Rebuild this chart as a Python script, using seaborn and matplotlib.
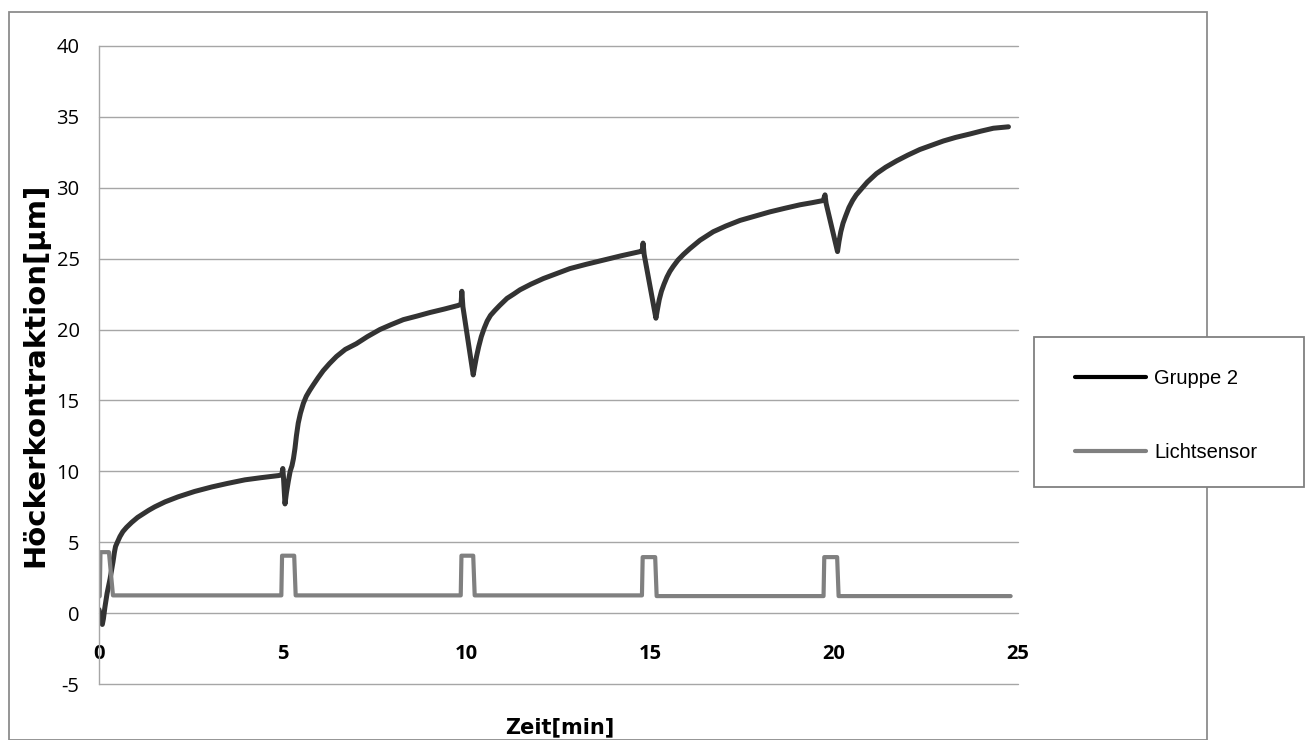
import matplotlib
matplotlib.use("Agg")
import matplotlib.pyplot as plt
from matplotlib.patches import Rectangle
import seaborn as sns

# ---- data ----
gruppe_t = [0.00, 0.05, 0.09, 0.12, 0.16, 0.22, 0.30, 0.38, 0.42, 0.45, 0.50, 0.57, 0.65,
            0.75, 0.89, 1.05, 1.20, 1.35, 1.52, 1.80, 2.15, 2.60, 3.07, 3.50, 3.97, 4.40,
            4.88, 4.97, 5.00, 5.02, 5.06, 5.10, 5.15, 5.20, 5.25, 5.29, 5.33, 5.37, 5.42,
            5.48, 5.56, 5.64, 5.73, 5.83, 5.96, 6.10, 6.27, 6.46, 6.70, 7.00, 7.30, 7.64,
            7.95, 8.28, 8.65, 9.00, 9.40, 9.77, 9.85, 9.87, 9.90, 10.18, 10.22, 10.27,
            10.33, 10.40, 10.48, 10.56, 10.65, 10.77, 10.90, 11.10, 11.28, 11.45, 11.75,
            12.09, 12.45, 12.81, 13.25, 13.72, 14.20, 14.72, 14.78, 14.80, 14.83, 15.15,
            15.19, 15.24, 15.30, 15.37, 15.45, 15.53, 15.62, 15.75, 15.90, 16.07, 16.35,
            16.71, 17.05, 17.44, 17.85, 18.25, 18.65, 19.07, 19.40, 19.70, 19.75, 19.78,
            20.09, 20.13, 20.18, 20.24, 20.31, 20.40, 20.50, 20.60, 20.70, 20.90, 21.15,
            21.40, 21.70, 22.00, 22.33, 22.65, 22.97, 23.30, 23.70, 24.00, 24.33, 24.74]
gruppe_v = [0.25, -0.3, -0.8, -0.4, 0.4, 1.4, 2.4, 3.6, 4.3, 4.7, 5.0, 5.4, 5.75,
            6.05, 6.4, 6.75, 7.0, 7.25, 7.5, 7.85, 8.2, 8.58, 8.9, 9.15, 9.4, 9.55,
            9.7, 9.75, 10.2, 9.5, 7.7, 8.5, 9.3, 10.0, 10.4, 10.9, 11.6, 12.5, 13.4,
            14.1, 14.8, 15.3, 15.7, 16.1, 16.6, 17.1, 17.6, 18.1, 18.6, 19.0, 19.5, 20.0,
            20.35, 20.7, 20.95, 21.2, 21.45, 21.7, 21.8, 22.7, 21.6, 16.8, 17.4, 18.1,
            18.8, 19.5, 20.1, 20.6, 21.0, 21.35, 21.7, 22.2, 22.5, 22.8, 23.2,
            23.6, 23.95, 24.3, 24.6, 24.9, 25.2, 25.5, 25.6, 26.1, 25.3, 20.8,
            21.4, 22.1, 22.7, 23.2, 23.7, 24.1, 24.45, 24.9, 25.3, 25.7, 26.3,
            26.9, 27.3, 27.7, 28.0, 28.3, 28.55, 28.8, 28.95, 29.1, 29.5, 28.9,
            25.5, 26.2, 26.9, 27.5, 28.0, 28.6, 29.1, 29.5, 29.8, 30.4, 31.0,
            31.45, 31.9, 32.3, 32.7, 33.0, 33.3, 33.55, 33.8, 34.0, 34.2, 34.3]

licht_t = [0.00, 0.02, 0.04, 0.27, 0.38, 4.96, 4.98, 5.31, 5.35, 9.84, 9.86, 10.18, 10.22,
           14.77, 14.79, 15.13, 15.17, 19.71, 19.73, 20.08, 20.12, 24.80]
licht_v = [1.15, 1.2, 4.3, 4.3, 1.25, 1.25, 4.05, 4.05, 1.25, 1.25, 4.05, 4.05, 1.25,
           1.25, 3.95, 3.95, 1.2, 1.2, 3.95, 3.95, 1.2, 1.2]

x_ticks = [0, 5, 10, 15, 20, 25]
y_ticks = [-5, 0, 5, 10, 15, 20, 25, 30, 35, 40]

series_names = ["Gruppe 2", "Lichtsensor"]
x_label = "Zeit[min]"
y_label = "Höckerkontraktion[µm]"

# ---- figure ----
sns.set_style("white")
plt.rcParams["font.family"] = ["Open Sans", "DejaVu Sans"]

W, H = 1309, 740
fig = plt.figure(figsize=(W / 100, H / 100), dpi=100)
ax = fig.add_axes([99 / W, 1 - 684 / H, (1018 - 99) / W, (684 - 46) / H])

sns.lineplot(x=gruppe_t, y=gruppe_v, sort=False, estimator=None, ax=ax,
             color="#333333", linewidth=3.6, label=series_names[0],
             solid_joinstyle="round", solid_capstyle="round")
sns.lineplot(x=licht_t, y=licht_v, sort=False, estimator=None, ax=ax,
             color="#808080", linewidth=3.0, label=series_names[1],
             solid_joinstyle="round", solid_capstyle="round")

# spines: left grey; bottom spine moved to y=0 (hidden) so x labels sit below the 0 line
for s in ["top", "right"]:
    ax.spines[s].set_visible(False)
ax.spines["left"].set_color("#a6a6a6")
ax.spines["left"].set_linewidth(1.0)
ax.spines["bottom"].set_position(("data", 0))
ax.spines["bottom"].set_visible(False)

ax.set_xlim(0, 25)
ax.set_ylim(-5, 40)
ax.set_xticks(x_ticks)
ax.set_yticks(y_ticks)
ax.set_xticklabels([str(v) for v in x_ticks], fontsize=14.5, fontweight="bold")
ax.set_yticklabels([str(v) for v in y_ticks], fontsize=14.5)
ax.tick_params(axis="x", length=0, pad=22, labelcolor="black")
ax.tick_params(axis="y", length=0, pad=14, labelcolor="black")

ax.grid(axis="y", color="#a6a6a6", linewidth=1.0)
ax.grid(axis="x", visible=False)
ax.set_axisbelow(True)
for gl in ax.get_ygridlines():
    gl.set_clip_on(False)

ax.set_xlabel(x_label, fontsize=15, fontweight="bold", family="DejaVu Sans", color="black")
ax.xaxis.set_label_coords(0.5016, -0.053)
ax.xaxis.label.set_va("top")
ax.set_ylabel(y_label, fontsize=21, fontweight="bold", family="DejaVu Sans", color="black")
ax.yaxis.set_label_coords(-0.054, 0.484)

# legend as a figure legend, drawn above the white legend box
handles, labels = ax.get_legend_handles_labels()
if ax.get_legend() is not None:
    ax.get_legend().remove()
leg = fig.legend(handles, labels, loc="upper left",
                 bbox_to_anchor=(1075 / W, 1 - 369 / H),
                 bbox_transform=fig.transFigure, frameon=False,
                 borderpad=0, labelspacing=2.75, handlelength=3.53,
                 handletextpad=0.4, borderaxespad=0,
                 prop={"family": "Liberation Sans", "size": 14.5})
leg.set_zorder(10)
for t in leg.get_texts():
    t.set_color("black")
leg.get_lines()[0].set_color("black")
leg.get_lines()[0].set_linewidth(3.0)
leg.get_lines()[1].set_linewidth(3.0)

# outer chart border and legend frame
fig.patches.append(Rectangle((9 / W, 0), (1207 - 9) / W, 1 - 12 / H,
                             transform=fig.transFigure, fill=False,
                             edgecolor="#8c8c8c", linewidth=1.3, zorder=1))
fig.patches.append(Rectangle((1034 / W, 1 - 487 / H), (1304 - 1034) / W, 150 / H,
                             transform=fig.transFigure, fill=True, facecolor="white",
                             edgecolor="#808080", linewidth=1.3, zorder=2))

fig.savefig("out.png", dpi=100)
